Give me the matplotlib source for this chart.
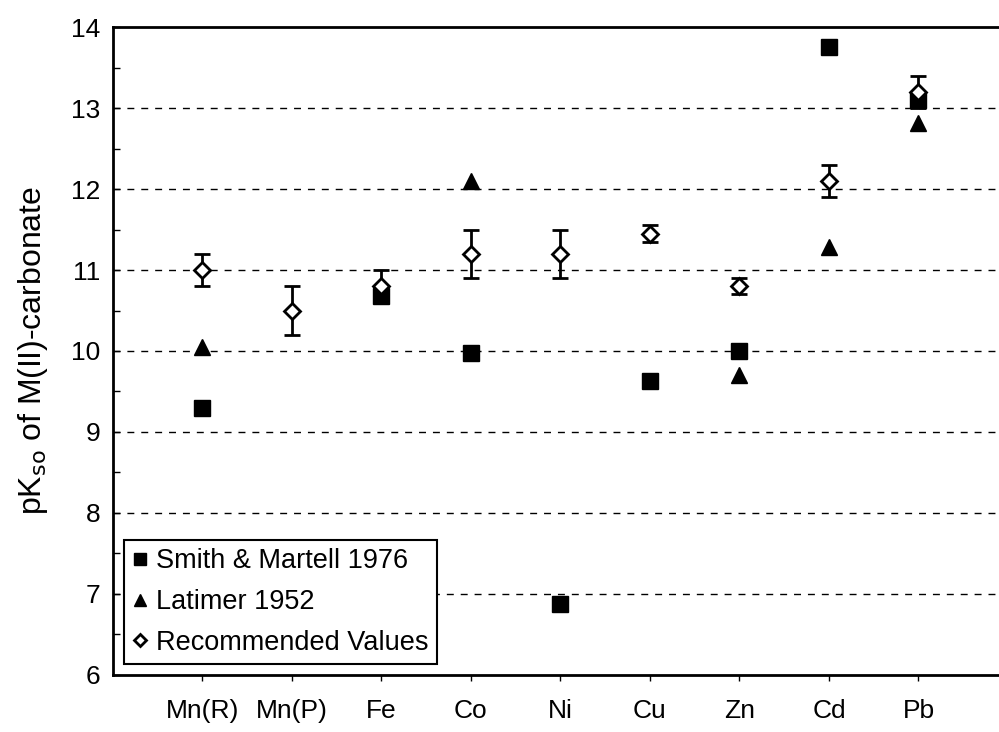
import numpy as np
import matplotlib.pyplot as plt
from matplotlib.lines import Line2D
from matplotlib.ticker import MultipleLocator

plt.rcParams['font.family'] = ['Liberation Sans', 'DejaVu Sans']

metals = ['Mn(R)', 'Mn(P)', 'Fe', 'Co', 'Ni', 'Cu', 'Zn', 'Cd', 'Pb']
smith = [9.3, np.nan, 10.68, 9.98, 6.88, 9.63, 10.0, 13.75, 13.1]
latimer = [10.05, np.nan, np.nan, 12.1, np.nan, np.nan, 9.7, 11.28, 12.82]
recommended = [11.0, 10.5, 10.8, 11.2, 11.2, 11.45, 10.8, 12.1, 13.2]
rec_err = [0.2, 0.3, 0.2, 0.3, 0.3, 0.1, 0.1, 0.2, 0.2]
series_names = ['Smith & Martell 1976', 'Latimer 1952', 'Recommended Values']

x = np.arange(1, len(metals) + 1)

fig = plt.figure(figsize=(9.99, 7.32), dpi=100)
ax = fig.add_axes([0.113, 0.078, 0.896, 0.885])

ax.plot(x, smith, 's', color='black', markersize=11, zorder=3)
ax.plot(x, latimer, '^', color='black', markersize=11, zorder=3)
ax.errorbar(x, recommended, yerr=rec_err, fmt='D', color='black',
            markerfacecolor='white', markeredgecolor='black',
            markeredgewidth=2, markersize=8, elinewidth=2,
            capsize=6, capthick=2, zorder=4)

ax.set_xlim(0, 10)
ax.set_ylim(6, 14)
ax.set_xticks(x)
ax.set_xticklabels(metals)
ax.yaxis.set_major_locator(MultipleLocator(1))
ax.yaxis.set_minor_locator(MultipleLocator(0.5))
ax.tick_params(axis='y', which='both', direction='in', length=5, width=1,
               labelsize=19, pad=9)
ax.tick_params(axis='x', direction='out', length=4, width=1,
               labelsize=19, pad=13)

for v in range(7, 14):
    ax.axhline(v, color='black', linestyle=(0, (5, 5)), linewidth=1, zorder=1)

for s in ax.spines.values():
    s.set_linewidth(2)

ax.set_ylabel('pK$_{\\mathrm{so}}$ of M(II)-carbonate', fontsize=23, labelpad=15)

# legend shows only the markers
handles = [
    Line2D([], [], marker='s', color='black', linestyle='none', markersize=9),
    Line2D([], [], marker='^', color='black', linestyle='none', markersize=9),
    Line2D([], [], marker='D', color='black', markerfacecolor='white',
           markeredgewidth=2, linestyle='none', markersize=6),
]
leg = ax.legend(handles, series_names, loc='lower left', fontsize=19.5,
                handlelength=0.6, handletextpad=0.3, borderpad=0.3,
                labelspacing=0.55, fancybox=False, framealpha=1,
                edgecolor='black', borderaxespad=0.4)
leg.get_frame().set_linewidth(1.5)

fig.savefig('out.png', dpi=100)
